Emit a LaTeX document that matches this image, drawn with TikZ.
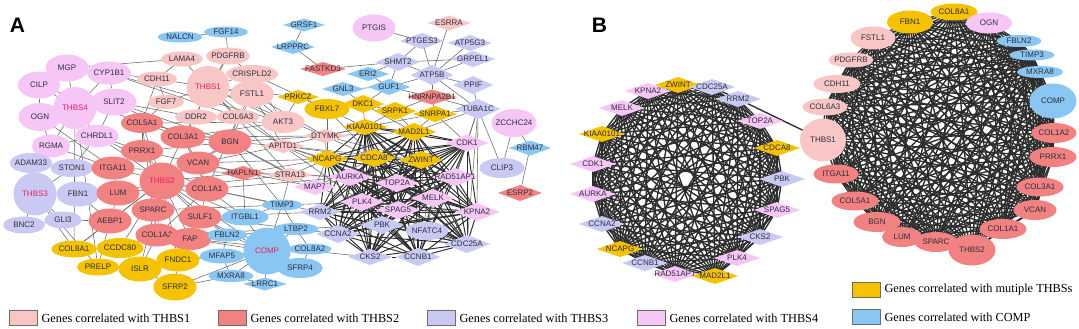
\documentclass[tikz,border=0pt]{standalone}
\usepackage{fontspec}
\setmainfont{Liberation Serif}
\setsansfont{Liberation Sans}
\usetikzlibrary{shapes.geometric}
\definecolor{cA}{RGB}{249,198,198}
\definecolor{cB}{RGB}{242,130,130}
\definecolor{cC}{RGB}{201,201,244}
\definecolor{cD}{RGB}{246,198,246}
\definecolor{cY}{RGB}{245,194,0}
\definecolor{cE}{RGB}{138,198,242}
\definecolor{hubc}{RGB}{236,28,96}
\definecolor{labc}{RGB}{45,45,60}
\definecolor{edgeA}{RGB}{105,105,105}
\definecolor{edgeD}{RGB}{45,45,45}
\pgfdeclarelayer{bglayer}
\pgfdeclarelayer{edgelayer}
\pgfsetlayers{bglayer,edgelayer,main}
\newcommand\N[7]{\node[#1,minimum width=#5pt,minimum height=#6pt] (#2) at (#3,#4) {\makebox[0pt]{#7}};}
\begin{document}
\begin{tikzpicture}[x=1pt,y=-1pt,
  basenode/.style={inner sep=0pt,outer sep=0pt,text=labc,font=\sffamily\fontsize{8}{8}\selectfont},
  ell/.style={basenode,ellipse},
  dia/.style={basenode,diamond},
  big/.style={font=\sffamily\fontsize{8.8}{9}\selectfont},
  f1/.style={fill=cA}, f2/.style={fill=cB}, f3/.style={fill=cC},
  f4/.style={fill=cD}, fy/.style={fill=cY}, fb/.style={fill=cE},
  hub/.style={text=hubc},
  ea/.style={draw=edgeA,line width=0.55pt},
  ed/.style={draw=edgeD,line width=0.95pt},
  eb/.style={draw=edgeD,line width=1.35pt},
  lbox/.style={draw=gray!85!black,line width=0.8pt,minimum width=28pt,minimum height=15pt,inner sep=0pt},
  ltext/.style={anchor=west,inner sep=0pt,text=black,font=\rmfamily\fontsize{12.3}{13}\selectfont},
  plabel/.style={anchor=base,inner sep=0pt,font=\sffamily\bfseries\fontsize{21}{21}\selectfont}]
\begin{pgfonlayer}{bglayer}
\fill[white,use as bounding box] (0,0) rectangle (1079,329);
\end{pgfonlayer}

% ---------------- Panel A nodes ----------------
\node[plabel] (labA) at (17.5,33) {A};
\N{ell,fb}{aNALCN}{180}{37}{45}{11}{NALCN}
\N{ell,fb}{aFGF14}{226}{32}{44}{11}{FGF14}
\N{ell,f1}{aLAMA4}{182}{59}{42}{15}{LAMA4}
\N{ell,f1}{aPDGFRB}{228}{56}{44}{17}{PDGFRB}
\N{ell,f1}{aCDH11}{157}{79}{40}{15}{CDH11}
\N{ell,f1}{aCRISPLD2}{252}{74}{52}{18}{CRISPLD2}
\N{ell,f1}{aFSTL1}{252}{94}{44}{26}{FSTL1}
\N{ell,f1,hub}{aTHBS1}{208}{87}{43}{42}{THBS1}
\N{ell,f1}{aFGF7}{166}{102}{36}{14}{FGF7}
\N{ell,f1}{aDDR2}{196}{117}{42}{15}{DDR2}
\N{ell,f1}{aCOL6A3}{238}{117}{43}{15}{COL6A3}
\N{ell,f2}{aCOL5A1}{142}{123}{42}{20}{COL5A1}
\N{ell,f2}{aCOL3A1}{183}{137}{45}{23}{COL3A1}
\N{ell,f2}{aBGN}{230}{142}{43}{25}{BGN}
\N{ell,f4}{aMGP}{67}{68}{43}{27}{MGP}
\N{ell,f4}{aCYP1B1}{109}{73}{44}{23}{CYP1B1}
\N{ell,f4}{aCILP}{39}{85}{42}{27}{CILP}
\N{ell,f4}{aOGN}{40}{117}{43}{28}{OGN}
\N{ell,f4}{aSLIT2}{114}{102}{45}{27}{SLIT2}
\N{ell,f4,hub}{aTHBS4}{75}{108}{43}{42}{THBS4}
\N{ell,f4}{aRGMA}{51}{146}{38}{23}{RGMA}
\N{ell,f4}{aCHRDL1}{97}{136}{43}{22}{CHRDL1}
\N{ell,f3}{aADAM33}{31}{163}{42}{20}{ADAM33}
\N{ell,f3}{aSTON1}{72}{168}{43}{18}{STON1}
\N{ell,f2}{aPRRX1}{142}{151}{42}{22}{PRRX1}
\N{ell,f2}{aITGA11}{113}{168}{43}{23}{ITGA11}
\N{ell,f2}{aVCAN}{198}{163}{43}{23}{VCAN}
\N{ell,f3,hub}{aTHBS3}{35}{194}{43}{43}{THBS3}
\N{ell,f3}{aFBN1}{78}{194}{43}{25}{FBN1}
\N{ell,f2}{aLUM}{118}{193}{43}{25}{LUM}
\N{ell,f2}{aCOL1A1}{207}{189}{43}{25}{COL1A1}
\N{ell,f2,hub}{aTHBS2}{162}{181}{45}{37}{THBS2}
\N{ell,f2}{aSPARC}{153}{210}{43}{23}{SPARC}
\N{ell,f2}{aSULF1}{200}{217}{43}{23}{SULF1}
\N{ell,f3}{aGLI3}{63}{220}{37}{17}{GLI3}
\N{ell,f3}{aBNC2}{24}{225}{42}{17}{BNC2}
\N{ell,f2}{aAEBP1}{110}{221}{43}{25}{AEBP1}
\N{ell,f2}{aCOL1A2}{157}{235}{43}{23}{COL1A2}
\N{ell,f2}{aFAP}{190}{239}{43}{22}{FAP}
\N{ell,fy}{aCOL8A1}{74}{249}{45}{17}{COL8A1}
\N{ell,fy}{aCCDC80}{120}{248}{47}{20}{CCDC80}
\N{ell,fy}{aPRELP}{98}{267}{42}{17}{PRELP}
\N{ell,fy}{aFNDC1}{178}{260}{43}{23}{FNDC1}
\N{ell,fy}{aISLR}{140}{269}{43}{25}{ISLR}
\N{ell,fy}{aSFRP2}{175}{287}{43}{27}{SFRP2}
\N{ell,fb}{aITGBL1}{245}{217}{47}{17}{ITGBL1}
\N{ell,fb}{aFBLN2}{227}{235}{40}{13}{FBLN2}
\N{ell,fb}{aMFAP5}{222}{256}{45}{15}{MFAP5}
\N{ell,fb}{aMXRA8}{231}{276}{45}{12}{MXRA8}
\N{ell,fb}{aTIMP3}{282}{205}{40}{11}{TIMP3}
\N{ell,fb}{aLTBP2}{296}{229}{45}{12}{LTBP2}
\N{ell,fb}{aCOL8A2}{310}{249}{43}{11}{COL8A2}
\N{ell,fb}{aSFRP4}{300}{268}{45}{20}{SFRP4}
\N{dia,fb}{aLRRC1}{265}{284}{44}{13}{LRRC1}
\N{ell,fb,hub}{aCOMP}{267}{251}{47}{47}{COMP}
\N{ell,f4}{aPTGIS}{374}{28}{43}{27}{PTGIS}
\N{ell,fy}{aFBXL7}{327}{109}{45}{20}{FBXL7}
\N{ell,f1}{aAKT3}{283}{122}{43}{22}{AKT3}
\N{ell,f4}{aZCCHC24}{514}{123}{45}{28}{ZCCHC24}
\N{ell,f3}{aCLIP3}{502}{168}{45}{20}{CLIP3}
\N{ell,f3}{aNFATC4}{427}{231}{43}{18}{NFATC4}
% diamonds
\N{dia,fb}{aGRSF1}{304}{25}{42}{13}{GRSF1}
\N{dia,fb}{aLRPPRC}{293}{47}{44}{14}{LRPPRC}
\N{dia,f2}{aFASTKD3}{323}{69}{46}{14}{FASTKD3}
\N{dia,fb}{aERI2}{368}{74}{42}{14}{ERI2}
\N{dia,fb}{aGNL3}{343}{89}{42}{14}{GNL3}
\N{dia,fb}{aGUF1}{389}{87}{42}{16}{GUF1}
\N{dia,fy}{aPRKCZ}{298}{97}{42}{14}{PRKCZ}
\N{dia,fy}{aDKC1}{363}{104}{42}{18}{DKC1}
\N{dia,fy}{aSRPK1}{395}{111}{42}{18}{SRPK1}
\N{dia,f1}{aDTYMK}{325}{136}{44}{14}{DTYMK}
\N{dia,f1}{aAPITD1}{283}{146}{44}{14}{APITD1}
\N{dia,f1}{aESRRA}{449}{23}{43}{15}{ESRRA}
\N{dia,f3}{aPTGES3}{422}{41}{44}{16}{PTGES3}
\N{dia,f3}{aATP5G3}{470}{43}{44}{16}{ATP5G3}
\N{dia,f3}{aSHMT2}{398}{62}{44}{18}{SHMT2}
\N{dia,f3}{aGRPEL1}{473}{59}{44}{16}{GRPEL1}
\N{dia,f3}{aATP5B}{432}{75}{43}{20}{ATP5B}
\N{dia,f3}{aPPIF}{473}{85}{40}{18}{PPIF}
\N{dia,f2}{aHNRNPA2B1}{432}{97}{50}{15}{HNRNPA2B1}
\N{dia,f3}{aTUBA1C}{478}{109}{45}{20}{TUBA1C}
\N{dia,fy}{aSNRPA1}{435}{114}{44}{16}{SNRPA1}
\N{dia,fb}{aRBM47}{530}{148}{42}{15}{RBM47}
\N{dia,f2}{aESRP2}{520}{193}{44}{16}{ESRP2}
\N{dia,f2}{aHAPLN1}{243}{173}{44}{14}{HAPLN1}
\N{dia,f1}{aSTRA13}{290}{175}{46}{14}{STRA13}
\N{dia,f4}{aMAP7}{315}{187}{42}{16}{MAP7}
\N{dia,fy}{aKIAA0101}{365}{127}{45}{16}{KIAA0101}
\N{dia,fy}{aMAD2L1}{414}{132}{44}{18}{MAD2L1}
\N{dia,f4}{aCDK1}{467}{143}{43}{17}{CDK1}
\N{dia,fy}{aNCAPG}{327}{159}{42}{18}{NCAPG}
\N{dia,fy}{aCDCA8}{374}{158}{44}{18}{CDCA8}
\N{dia,fy}{aZWINT}{421}{160}{44}{18}{ZWINT}
\N{dia,f4}{aAURKA}{350}{177}{44}{18}{AURKA}
\N{dia,f4}{aRAD51AP1}{455}{177}{46}{18}{RAD51AP1}
\N{dia,f4}{aTOP2A}{397}{183}{44}{18}{TOP2A}
\N{dia,f4}{aMELK}{433}{198}{44}{18}{MELK}
\N{dia,f4}{aPLK4}{362}{202}{44}{18}{PLK4}
\N{dia,f4}{aSPAG5}{398}{210}{44}{18}{SPAG5}
\N{dia,f3}{aRRM2}{320}{212}{42}{16}{RRM2}
\N{dia,f4}{aKPNA2}{477}{212}{45}{18}{KPNA2}
\N{dia,f3}{aPBK}{382}{225}{44}{18}{PBK}
\N{dia,f3}{aCCNA2}{338}{234}{44}{18}{CCNA2}
\N{dia,f3}{aCDC25A}{467}{244}{46}{18}{CDC25A}
\N{dia,f3}{aCKS2}{370}{257}{44}{16}{CKS2}
\N{dia,f3}{aCCNB1}{418}{257}{44}{18}{CCNB1}

% ---------------- Panel B nodes ----------------
\node[plabel] (labB) at (599.5,33) {B};
\begin{scope}[every node/.append style={big}]
\N{dia,fy}{bZWINT}{678}{85}{46}{16}{ZWINT}
\N{dia,f3}{bCDC25A}{712}{87}{46}{16}{CDC25A}
\N{dia,f4}{bKPNA2}{648}{91}{46}{16}{KPNA2}
\N{dia,f3}{bRRM2}{738}{99}{46}{16}{RRM2}
\N{dia,f4}{bMELK}{622}{108}{46}{16}{MELK}
\N{dia,f4}{bTOP2A}{760}{121}{46}{16}{TOP2A}
\N{dia,fy}{bKIAA0101}{602}{134}{46}{16}{KIAA0101}
\N{dia,fy}{bCDCA8}{777}{148}{46}{16}{CDCA8}
\N{dia,f4}{bCDK1}{593}{164}{46}{16}{CDK1}
\N{dia,f3}{bPBK}{782}{179}{46}{16}{PBK}
\N{dia,f4}{bAURKA}{593}{194}{46}{16}{AURKA}
\N{dia,f4}{bSPAG5}{777}{210}{46}{16}{SPAG5}
\N{dia,f3}{bCCNA2}{602}{224}{46}{16}{CCNA2}
\N{dia,f3}{bCKS2}{760}{237}{46}{16}{CKS2}
\N{dia,fy}{bNCAPG}{620}{249}{46}{16}{NCAPG}
\N{dia,f4}{bPLK4}{737}{258}{46}{16}{PLK4}
\N{dia,f3}{bCCNB1}{645}{263}{46}{16}{CCNB1}
\N{dia,f4}{bRAD51AP1}{675}{274}{46}{16}{RAD51AP1}
\N{dia,fy}{bMAD2L1}{715}{276}{46}{16}{MAD2L1}

\N{ell,fy}{bCOL8A1}{954}{12}{47}{17}{COL8A1}
\N{ell,fy}{bFBN1}{910}{22}{46}{23}{FBN1}
\N{ell,f4}{bOGN}{989}{23}{46}{21}{OGN}
\N{ell,f1}{bFSTL1}{873}{38}{45}{23}{FSTL1}
\N{ell,fb}{bFBLN2}{1019}{41}{45}{12}{FBLN2}
\N{ell,fb}{bTIMP3}{1032}{55}{45}{11}{TIMP3}
\N{ell,f1}{bPDGFRB}{851}{60}{45}{15}{PDGFRB}
\N{ell,fb}{bMXRA8}{1040}{72}{46}{12}{MXRA8}
\N{ell,f1}{bCDH11}{837}{84}{47}{18}{CDH11}
\N{ell,fb}{bCOMP}{1053}{101}{47}{35}{COMP}
\N{ell,f1}{bCOL6A3}{825}{107}{45}{17}{COL6A3}
\N{ell,f1}{bTHBS1}{823}{140}{46}{43}{THBS1}
\N{ell,f2}{bCOL1A2}{1054}{133}{45}{20}{COL1A2}
\N{ell,f2}{bPRRX1}{1053}{157}{47}{20}{PRRX1}
\N{ell,f2}{bITGA11}{836}{174}{45}{19}{ITGA11}
\N{ell,f2}{bCOL3A1}{1040}{187}{47}{19}{COL3A1}
\N{ell,f2}{bCOL5A1}{855}{201}{47}{19}{COL5A1}
\N{ell,f2}{bVCAN}{1035}{210}{43}{20}{VCAN}
\N{ell,f2}{bBGN}{877}{222}{47}{20}{BGN}
\N{ell,f2}{bCOL1A1}{1003}{229}{47}{20}{COL1A1}
\N{ell,f2}{bLUM}{902}{237}{40}{20}{LUM}
\N{ell,f2}{bSPARC}{936}{242}{43}{20}{SPARC}
\N{ell,f2}{bTHBS2}{972}{250}{47}{31}{THBS2}
\end{scope}

% ---------------- Legend ----------------
\node[lbox,fill=cA] (L1) at (23,318) {};
\node[ltext] (T1) at ([xshift=4pt]L1.east) {Genes correlated with THBS1};
\node[lbox,fill=cB] (L2) at (232,318) {};
\node[ltext] (T2) at ([xshift=4pt]L2.east) {Genes correlated with THBS2};
\node[lbox,fill=cC] (L3) at (441,318) {};
\node[ltext] (T3) at ([xshift=4pt]L3.east) {Genes correlated with THBS3};
\node[lbox,fill=cD] (L4) at (651,318) {};
\node[ltext] (T4) at ([xshift=4pt]L4.east) {Genes correlated with THBS4};
\node[lbox,fill=cY] (L5) at (866,290) {};
\node[ltext] (T5) at ([xshift=4pt]L5.east) {Genes correlated with mutiple THBSs};
\node[lbox,fill=cE] (L6) at (866,317) {};
\node[ltext] (T6) at ([xshift=4pt]L6.east) {Genes correlated with COMP};

% ---------------- Edges ----------------
\begin{pgfonlayer}{edgelayer}
\def\clusA{aZWINT,aCDC25A,aKPNA2,aRRM2,aMELK,aTOP2A,aKIAA0101,aCDCA8,aCDK1,aPBK,aAURKA,aSPAG5,aCCNA2,aCKS2,aNCAPG,aPLK4,aCCNB1,aRAD51AP1,aMAD2L1}
\foreach \p [count=\i] in \clusA {\foreach \q [count=\j] in \clusA {\ifnum\j>\i \draw[ed] (\p) -- (\q);\fi}}
\def\clusB{bZWINT,bCDC25A,bKPNA2,bRRM2,bMELK,bTOP2A,bKIAA0101,bCDCA8,bCDK1,bPBK,bAURKA,bSPAG5,bCCNA2,bCKS2,bNCAPG,bPLK4,bCCNB1,bRAD51AP1,bMAD2L1}
\foreach \p [count=\i] in \clusB {\foreach \q [count=\j] in \clusB {\ifnum\j>\i \draw[eb] (\p.center) -- (\q.center);\fi}}
\def\clusC{bCOL8A1,bFBN1,bOGN,bFSTL1,bFBLN2,bTIMP3,bPDGFRB,bMXRA8,bCDH11,bCOMP,bCOL6A3,bTHBS1,bCOL1A2,bPRRX1,bITGA11,bCOL3A1,bCOL5A1,bVCAN,bBGN,bCOL1A1,bLUM,bSPARC,bTHBS2}
\foreach \p [count=\i] in \clusC {\foreach \q [count=\j] in \clusC {\ifnum\j>\i \draw[eb] (\p.center) -- (\q.center);\fi}}
\draw[eb] (bRRM2) -- (bTHBS1);
\foreach \u/\v in {NALCN/FGF14,FGF14/PDGFRB,GRSF1/LRPPRC,LRPPRC/FASTKD3,FASTKD3/SHMT2,PTGIS/PTGES3,SHMT2/PTGES3,SHMT2/ATP5B,SHMT2/GRPEL1,SHMT2/GUF1,SHMT2/ERI2,PTGES3/ATP5B,ESRRA/ATP5B,ATP5G3/ATP5B,GRPEL1/ATP5B,ATP5B/PPIF,ATP5B/TUBA1C,ATP5B/GUF1,ATP5B/HNRNPA2B1,ERI2/GUF1,GNL3/GUF1,GUF1/DKC1,GUF1/HNRNPA2B1,GNL3/DKC1,HNRNPA2B1/SNRPA1,HNRNPA2B1/SRPK1,HNRNPA2B1/TUBA1C,TUBA1C/CDK1,TUBA1C/MAD2L1,TUBA1C/SNRPA1,TUBA1C/KPNA2,TUBA1C/CDC25A,TUBA1C/CLIP3,TUBA1C/RAD51AP1,PPIF/TUBA1C,ZCCHC24/CLIP3,ZCCHC24/RBM47,RBM47/ESRP2,DKC1/KIAA0101,DKC1/SRPK1,DKC1/MAD2L1,SRPK1/KIAA0101,SRPK1/MAD2L1,SNRPA1/MAD2L1,SNRPA1/KIAA0101,SNRPA1/CDK1,FBXL7/NCAPG,FBXL7/KIAA0101,FBXL7/CDCA8,PRKCZ/AKT3,PRKCZ/FBXL7,DTYMK/KIAA0101,DTYMK/NCAPG,DTYMK/CDCA8,DTYMK/ZWINT,DTYMK/MAD2L1,APITD1/NCAPG,APITD1/AURKA,APITD1/CDCA8,APITD1/ZWINT,APITD1/TOP2A,APITD1/PLK4,APITD1/KIAA0101,STRA13/AURKA,STRA13/NCAPG,MAP7/AURKA,MAP7/NCAPG,MAP7/PLK4,MAP7/CDCA8,NFATC4/CCNB1,NFATC4/CDC25A,NFATC4/MELK,NFATC4/KPNA2,NFATC4/SPAG5,NFATC4/PBK,NFATC4/ZWINT,
THBS1/LAMA4,THBS1/PDGFRB,THBS1/CDH11,THBS1/CRISPLD2,THBS1/FSTL1,THBS1/FGF7,THBS1/DDR2,THBS1/COL6A3,THBS1/AKT3,THBS1/APITD1,THBS1/DTYMK,THBS1/STRA13,THBS1/PRKCZ,LAMA4/CDH11,PDGFRB/CRISPLD2,CDH11/FGF7,FSTL1/COL6A3,COL6A3/DDR2,FSTL1/AKT3,CRISPLD2/AKT3,COL6A3/APITD1,FSTL1/DTYMK,FSTL1/APITD1,CRISPLD2/FBXL7,
THBS2/COL5A1,THBS2/COL3A1,THBS2/BGN,THBS2/PRRX1,THBS2/ITGA11,THBS2/VCAN,THBS2/LUM,THBS2/COL1A1,THBS2/SPARC,THBS2/SULF1,THBS2/AEBP1,THBS2/COL1A2,THBS2/FAP,THBS2/HAPLN1,THBS2/CCDC80,THBS2/FNDC1,THBS2/ISLR,THBS2/COL8A1,THBS2/ITGBL1,THBS2/FBLN2,COL5A1/COL3A1,COL3A1/COL1A1,COL1A1/COL1A2,COL5A1/COL1A2,BGN/VCAN,VCAN/COL1A1,LUM/SPARC,LUM/AEBP1,SPARC/COL1A2,SULF1/FAP,COL3A1/BGN,PRRX1/ITGA11,PRRX1/COL5A1,ITGA11/LUM,COL1A1/SULF1,COL5A1/BGN,COL3A1/VCAN,DDR2/COL3A1,COL6A3/BGN,COL6A3/COL1A1,PDGFRB/COL3A1,CDH11/COL5A1,FGF7/COL5A1,FSTL1/BGN,
HAPLN1/AURKA,HAPLN1/NCAPG,HAPLN1/STRA13,BGN/STRA13,BGN/MAP7,COL1A1/RRM2,VCAN/MAP7,SULF1/CCNA2,FAP/CKS2,COL1A2/PBK,SPARC/PLK4,COL3A1/DTYMK,BGN/APITD1,VCAN/APITD1,COL1A1/AURKA,LUM/STRA13,ITGA11/HAPLN1,PRRX1/HAPLN1,PRRX1/BGN,COL5A1/AKT3,COL3A1/AKT3,BGN/DTYMK,VCAN/NCAPG,SULF1/RRM2,
THBS4/MGP,THBS4/CILP,THBS4/CYP1B1,THBS4/SLIT2,THBS4/OGN,THBS4/RGMA,THBS4/CHRDL1,THBS4/PRELP,THBS4/COL8A1,MGP/CILP,MGP/CYP1B1,CILP/OGN,OGN/RGMA,RGMA/CHRDL1,SLIT2/CHRDL1,CYP1B1/SLIT2,CYP1B1/COL6A3,CYP1B1/AKT3,SLIT2/BGN,SLIT2/COL3A1,CHRDL1/COL1A1,CHRDL1/COMP,MGP/LAMA4,CYP1B1/CDH11,SLIT2/DDR2,CHRDL1/PRRX1,OGN/ITGA11,CILP/COL5A1,RGMA/ITGA11,
THBS3/ADAM33,THBS3/STON1,THBS3/FBN1,THBS3/GLI3,THBS3/BNC2,THBS3/COL8A1,THBS3/PRELP,STON1/ITGA11,FBN1/LUM,GLI3/AEBP1,FBN1/STON1,ADAM33/STON1,BNC2/GLI3,FBN1/AEBP1,STON1/CHRDL1,ADAM33/RGMA,
COL8A1/CCDC80,CCDC80/ISLR,PRELP/ISLR,ISLR/FNDC1,FNDC1/SFRP2,SFRP2/ISLR,FNDC1/COMP,SFRP2/COMP,CCDC80/COL1A2,FNDC1/FAP,ISLR/COL1A2,PRELP/AEBP1,COL8A1/AEBP1,SFRP2/MXRA8,FNDC1/MFAP5,
COMP/TIMP3,COMP/LTBP2,COMP/COL8A2,COMP/SFRP4,COMP/LRRC1,COMP/MXRA8,COMP/MFAP5,COMP/FBLN2,COMP/ITGBL1,ITGBL1/TIMP3,TIMP3/LTBP2,LTBP2/COL8A2,FBLN2/MFAP5,MFAP5/MXRA8,FBLN2/FAP,ITGBL1/SULF1,ITGBL1/COL1A1,TIMP3/COL1A1,LTBP2/FAP,FBLN2/SULF1,SFRP4/COL8A2,MXRA8/LRRC1,TIMP3/STRA13,TIMP3/BGN,COMP/FAP,COMP/SULF1,ITGBL1/HAPLN1}
  {\draw[ea] (a\u) -- (a\v);}
\end{pgfonlayer}
\end{tikzpicture}
\end{document}
